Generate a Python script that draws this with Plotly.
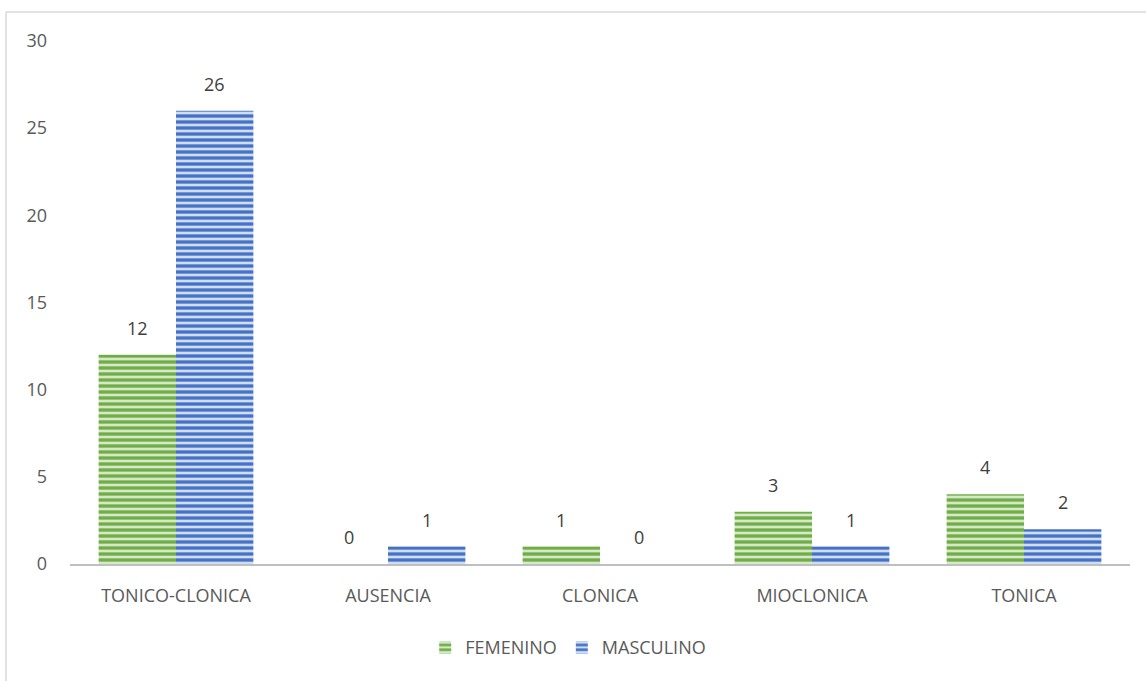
import plotly.graph_objects as go

categorias = ["TONICO-CLONICA", "AUSENCIA", "CLONICA", "MIOCLONICA", "TONICA"]
femenino = [12, 0, 1, 3, 4]
masculino = [26, 1, 0, 1, 2]

W, H = 1146, 681
L, R, T, B = 70, 16, 41, 117
BARGAP = 0.27

fuente = dict(family="Open Sans, Liberation Sans, sans-serif", size=18, color="#595959")

def serie(nombre, valores, fg, bg):
    return go.Bar(
        name=nombre, x=categorias, y=valores,
        marker=dict(color=bg, line=dict(width=0),
                    pattern=dict(shape="-", fgcolor=fg, bgcolor=bg, fgopacity=1,
                                 size=6, solidity=0.55, fillmode="replace")),
    )

fig = go.Figure([
    serie("FEMENINO", femenino, "#70ad47", "#d5e8c8"),
    serie("MASCULINO", masculino, "#4472c4", "#d0dcf2"),
])

# value labels above each bar, placed at the grouped bar centres
desplaz = (1 - BARGAP) / 4
for valores, dx in ((femenino, -desplaz), (masculino, desplaz)):
    for i, v in enumerate(valores):
        fig.add_annotation(x=i + dx, y=v, text=str(v), showarrow=False,
                           yanchor="middle", yshift=27,
                           font=dict(size=18, color="#404040"))

# thin frame around the chart area
pw, ph = W - L - R, H - T - B
x0 = (6 - L) / pw
y0 = (H - B - 12) / ph
fig.add_shape(type="line", xref="paper", yref="paper", x0=x0, x1=1.2, y0=y0, y1=y0,
              line=dict(color="#d9d9d9", width=1.5))
fig.add_shape(type="line", xref="paper", yref="paper", x0=x0, x1=x0, y0=-0.3, y1=y0,
              line=dict(color="#d9d9d9", width=1.5))

fig.update_layout(
    width=W, height=H,
    margin=dict(l=L, r=R, t=T, b=B),
    paper_bgcolor="white", plot_bgcolor="white",
    font=fuente,
    barmode="group", bargap=BARGAP, bargroupgap=0,
    showlegend=True,
    legend=dict(orientation="h", x=0.47, xanchor="center", y=-0.16, yanchor="middle",
                font=dict(size=18, color="#595959")),
    xaxis=dict(showline=True, linecolor="#bfbfbf", linewidth=2, ticks="",
               ticklabelstandoff=14,
               tickfont=dict(size=18, color="#595959"), showgrid=False),
    yaxis=dict(range=[0, 30], dtick=5, showgrid=False, zeroline=False,
               showline=False, ticks="", ticklabelstandoff=22,
               tickfont=dict(size=18, color="#595959")),
)

fig.write_html("out.html")
